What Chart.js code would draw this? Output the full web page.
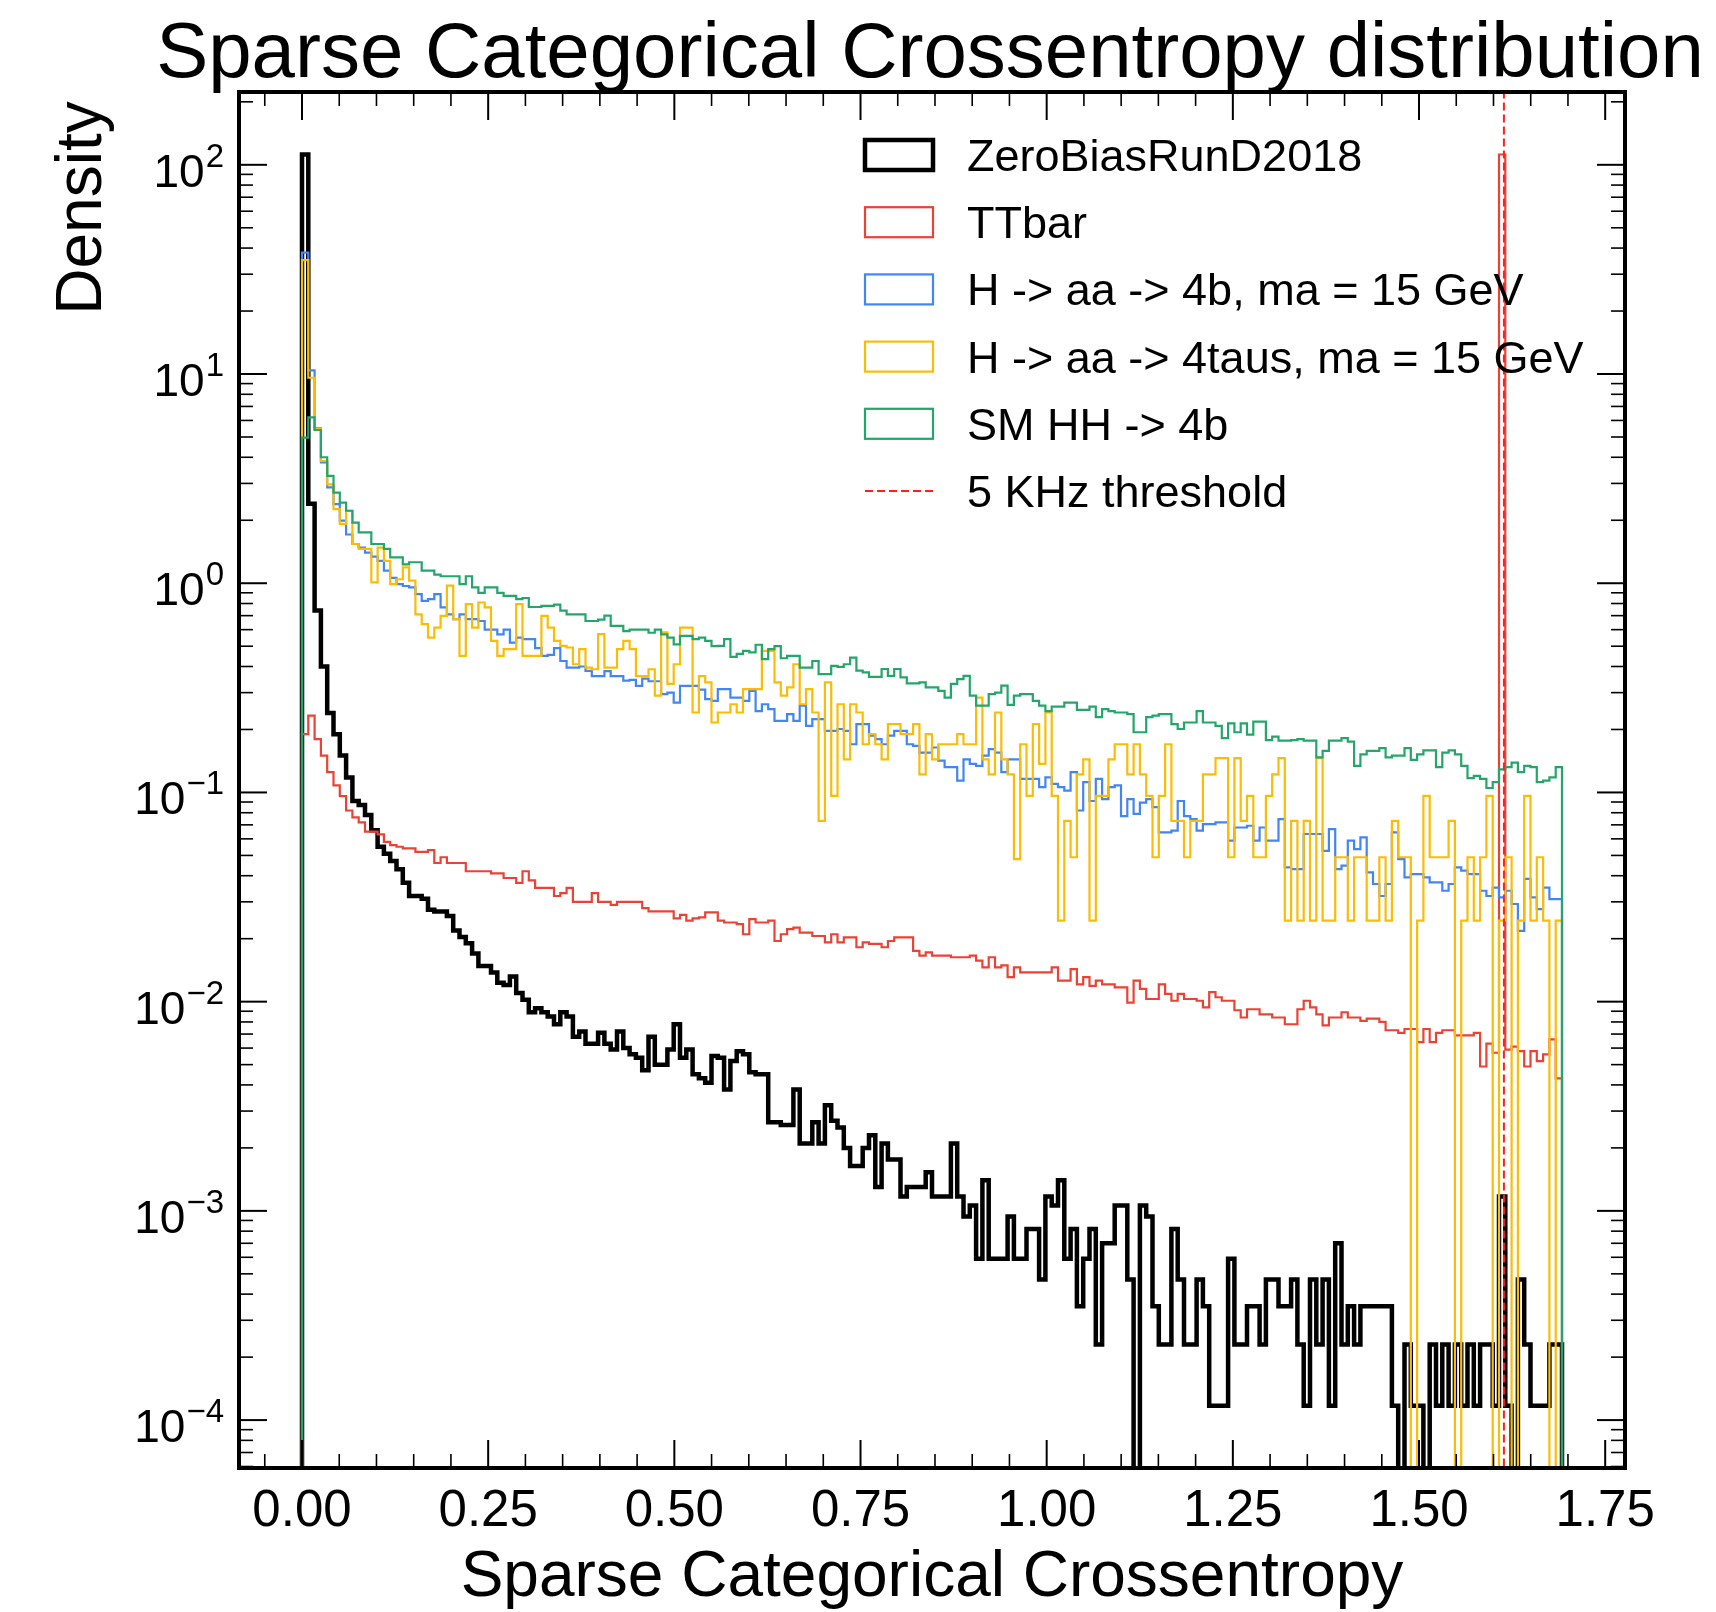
<!DOCTYPE html>
<html>
<head>
<meta charset="utf-8">
<script src="https://cdn.jsdelivr.net/npm/chart.js@4.4.1/dist/chart.umd.min.js"></script>
<style>
  html, body { margin: 0; padding: 0; background: #fff; }
  canvas { display: block; }
</style>
</head>
<body>
<canvas id="grafico" width="1716" height="1612"></canvas>
<script>
// Histogram binning (common to all samples)
const xMin = 0, xMax = 1.692, nBins = 200;
const threshold5kHz = 1.614;

const seriesNames = ['ZeroBiasRunD2018', 'TTbar', 'H -> aa -> 4b, ma = 15 GeV', 'H -> aa -> 4taus, ma = 15 GeV', 'SM HH -> 4b'];
const thresholdLabel = '5 KHz threshold';

// Density per bin
const zeroBias = [
  112, 2.4, 0.74, 0.40, 0.24, 0.19, 0.15, 0.118, 0.091, 0.087,
  0.078, 0.066, 0.055, 0.051, 0.047, 0.043, 0.037, 0.032, 0.032, 0.031,
  0.0275, 0.027, 0.027, 0.0257, 0.0219, 0.0204, 0.019, 0.017, 0.0148, 0.0148,
  0.0138, 0.0123, 0.012, 0.0132, 0.011, 0.0102, 0.0089, 0.0093, 0.0089, 0.0085,
  0.0078, 0.0089, 0.0085, 0.0068, 0.0072, 0.0063, 0.0063, 0.0071, 0.0063, 0.0059,
  0.0072, 0.006, 0.0056, 0.0054, 0.0047, 0.0068, 0.005, 0.005, 0.0059, 0.0078,
  0.0054, 0.0059, 0.0045, 0.0043, 0.0041, 0.0055, 0.0054, 0.0038, 0.0052, 0.0058,
  0.0056, 0.0046, 0.0045, 0.0045, 0.00265, 0.00265, 0.00257, 0.00257, 0.0038, 0.0021,
  0.0021, 0.00265, 0.0021, 0.0032, 0.0027, 0.0025, 0.0020, 0.00164, 0.00164, 0.0020,
  0.0023, 0.0013, 0.0021, 0.00176, 0.00176, 0.00117, 0.0013, 0.0013, 0.0013, 0.00153,
  0.00117, 0.00117, 0.00117, 0.0021, 0.00117, 0.00094, 0.00106, 0.00059, 0.0014, 0.00059,
  0.00059, 0.00059, 0.00094, 0.00059, 0.00059, 0.00082, 0.00082, 0.00047, 0.00117, 0.00106,
  0.0014, 0.00059, 0.00082, 0.00035, 0.00059, 0.00082, 0.00023, 0.0007, 0.0007, 0.00106,
  0.00106, 0.00047, 0, 0.00106, 0.00094, 0.00035, 0.00023, 0.00023, 0.00082, 0.00047,
  0.00023, 0.00023, 0.00047, 0.00035, 0.000117, 0.000117, 0.000117, 0.00059, 0.00023, 0.00023,
  0.00035, 0.00035, 0.00023, 0.00047, 0.00047, 0.00035, 0.00035, 0.00047, 0.00023, 0.000117,
  0.00047, 0.00023, 0.00047, 0.000117, 0.0007, 0.00023, 0.00035, 0.00023, 0.00035, 0.00035,
  0.00035, 0.00035, 0.00035, 0.000117, 0, 0.00023, 0.000117, 0.000117, 0, 0.00023,
  0.000117, 0.00023, 0.000117, 0.00023, 0.000117, 0.00023, 0.000117, 0.00023, 0.00023, 0.000117,
  0.00117, 0.000117, 0, 0.00047, 0.00023, 0.000117, 0.000117, 0.000117, 0.00023, 0.00023
];

const ttbar = [
  0.19, 0.233, 0.18, 0.15, 0.125, 0.108, 0.096, 0.082, 0.076, 0.072,
  0.065, 0.065, 0.063, 0.058, 0.056, 0.055, 0.054, 0.054, 0.052, 0.052,
  0.053, 0.046, 0.049, 0.046, 0.046, 0.046, 0.042, 0.042, 0.042, 0.042,
  0.041, 0.041, 0.039, 0.039, 0.037, 0.042, 0.038, 0.035, 0.035, 0.035,
  0.032, 0.033, 0.035, 0.030, 0.030, 0.030, 0.033, 0.030, 0.030, 0.029,
  0.030, 0.030, 0.030, 0.030, 0.028, 0.027, 0.027, 0.027, 0.027, 0.025,
  0.026, 0.0244, 0.025, 0.0253, 0.0267, 0.0267, 0.0244, 0.0239, 0.0239, 0.0235,
  0.021, 0.0248, 0.0239, 0.0239, 0.0244, 0.0195, 0.021, 0.0222, 0.0226, 0.0214,
  0.0214, 0.0206, 0.0206, 0.0192, 0.021, 0.0192, 0.0203, 0.0203, 0.0182, 0.0192,
  0.0189, 0.0189, 0.0182, 0.0195, 0.0203, 0.0203, 0.0203, 0.0175, 0.0166, 0.0172,
  0.0166, 0.0166, 0.0166, 0.0163, 0.0163, 0.0163, 0.0166, 0.0157, 0.0146, 0.0163,
  0.0146, 0.0149, 0.0131, 0.0146, 0.0138, 0.0138, 0.0138, 0.0138, 0.0138, 0.0146,
  0.0126, 0.0126, 0.0143, 0.0121, 0.0131, 0.0119, 0.0126, 0.0121, 0.0121, 0.0117,
  0.0117, 0.0099, 0.0126, 0.0115, 0.0103, 0.0103, 0.0121, 0.0109, 0.0101, 0.0109,
  0.0103, 0.0103, 0.0101, 0.0094, 0.0111, 0.0105, 0.0101, 0.0101, 0.0091, 0.0084,
  0.0092, 0.0092, 0.0087, 0.0087, 0.0084, 0.0084, 0.0078, 0.0078, 0.0092, 0.0101,
  0.0094, 0.0087, 0.0077, 0.0084, 0.0084, 0.0089, 0.0084, 0.0084, 0.0081, 0.0083,
  0.0083, 0.0080, 0.0073, 0.0073, 0.0071, 0.0074, 0.0074, 0.0064, 0.0074, 0.0064,
  0.0071, 0.0073, 0.0073, 0.0069, 0.0069, 0.0069, 0.0071, 0.0049, 0.0063, 0.0057,
  112, 0.0059, 0.0061, 0.0058, 0.0049, 0.0058, 0.0052, 0.0056, 0.0066, 0.0043
];

const haa4b = [
  38, 10.4, 5.5, 3.78, 2.87, 2.39, 1.99, 1.71, 1.54, 1.48,
  1.40, 1.34, 1.28, 1.15, 1.06, 0.99, 0.97, 0.955, 0.887, 0.824,
  0.84, 0.887, 0.766, 0.71, 0.673, 0.71, 0.673, 0.673, 0.66, 0.60,
  0.60, 0.57, 0.60, 0.52, 0.55, 0.54, 0.54, 0.49, 0.45, 0.455,
  0.49, 0.425, 0.395, 0.395, 0.40, 0.381, 0.36, 0.36, 0.38, 0.36,
  0.36, 0.342, 0.345, 0.323, 0.35, 0.34, 0.34, 0.295, 0.30, 0.269,
  0.323, 0.323, 0.323, 0.31, 0.279, 0.274, 0.312, 0.312, 0.284, 0.284,
  0.274, 0.306, 0.245, 0.264, 0.25, 0.22, 0.22, 0.237, 0.22, 0.26,
  0.208, 0.224, 0.224, 0.197, 0.197, 0.201, 0.197, 0.17, 0.212, 0.212,
  0.187, 0.18, 0.17, 0.187, 0.197, 0.197, 0.17, 0.167, 0.155, 0.155,
  0.164, 0.142, 0.132, 0.132, 0.114, 0.144, 0.137, 0.134, 0.15, 0.161,
  0.155, 0.125, 0.144, 0.144, 0.116, 0.116, 0.116, 0.106, 0.118, 0.11,
  0.106, 0.102, 0.125, 0.082, 0.112, 0.091, 0.116, 0.093, 0.106, 0.108,
  0.077, 0.093, 0.079, 0.0895, 0.093, 0.085, 0.0645, 0.0645, 0.0657, 0.091,
  0.077, 0.0746, 0.0657, 0.0706, 0.0706, 0.072, 0.072, 0.0588, 0.068, 0.068,
  0.0693, 0.0588, 0.068, 0.0588, 0.0588, 0.0746, 0.0438, 0.043, 0.043, 0.0633,
  0.0633, 0.0633, 0.0526, 0.0668, 0.043, 0.0447, 0.0588, 0.0536, 0.061, 0.0415,
  0.0365, 0.032, 0.0365, 0.0645, 0.048, 0.0393, 0.0407, 0.0407, 0.0393, 0.0372,
  0.0372, 0.0339, 0.0365, 0.0438, 0.0423, 0.0407, 0.0407, 0.0339, 0.032, 0.0351,
  0.0315, 0.0339, 0.0293, 0.0218, 0.0386, 0.0315, 0.0277, 0.0351, 0.0309, 0.0309
];

const haa4tau = [
  35, 9.6, 5.45, 3.84, 2.97, 2.26, 1.92, 2.22, 1.54, 1.46,
  1.46, 1.01, 1.48, 1.28, 0.99, 1.045, 1.19, 1.03, 0.71, 0.637,
  0.55, 0.614, 0.698, 0.973, 0.673, 0.45, 0.794, 0.614, 0.809, 0.766,
  0.53, 0.45, 0.484, 0.484, 0.794, 0.45, 0.45, 0.45, 0.698, 0.614,
  0.53, 0.502, 0.493, 0.41, 0.484, 0.395, 0.388, 0.571, 0.395, 0.395,
  0.484, 0.53, 0.484, 0.36, 0.36, 0.388, 0.29, 0.582, 0.33, 0.41,
  0.614, 0.614, 0.241, 0.36, 0.336, 0.216, 0.241, 0.241, 0.264, 0.241,
  0.312, 0.312, 0.312, 0.475, 0.475, 0.336, 0.29, 0.318, 0.41, 0.264,
  0.312, 0.241, 0.0732, 0.336, 0.0964, 0.264, 0.144, 0.264, 0.241, 0.17,
  0.19, 0.17, 0.144, 0.212, 0.212, 0.19, 0.19, 0.212, 0.122, 0.19,
  0.144, 0.17, 0.17, 0.17, 0.19, 0.17, 0.17, 0.284, 0.144, 0.122,
  0.241, 0.144, 0.122, 0.048, 0.17, 0.0964, 0.212, 0.137, 0.241, 0.0964,
  0.0244, 0.0732, 0.049, 0.122, 0.144, 0.0244, 0.0964, 0.0964, 0.144, 0.17,
  0.17, 0.122, 0.17, 0.122, 0.0964, 0.049, 0.0964, 0.17, 0.0732, 0.0732,
  0.049, 0.0732, 0.0732, 0.122, 0.122, 0.146, 0.146, 0.049, 0.146, 0.0732,
  0.0964, 0.049, 0.049, 0.0964, 0.122, 0.146, 0.0244, 0.0732, 0.0244, 0.0732,
  0.0244, 0.146, 0.0244, 0.0244, 0.049, 0.049, 0.0244, 0.049, 0.049, 0.0244,
  0.0244, 0.049, 0.0244, 0.0732, 0.049, 0.049, 0, 0.0244, 0.0964, 0.049,
  0.049, 0.049, 0.0732, 0, 0.0244, 0.049, 0.0244, 0.049, 0.0964, 0,
  0.0244, 0.049, 0, 0.0244, 0.0964, 0.0244, 0.049, 0.0244, 0, 0.0244
];

const hh4b = [
  4.97, 6.2, 5.4, 4.0, 3.26, 2.71, 2.43, 2.22, 1.95, 1.75,
  1.75, 1.54, 1.54, 1.46, 1.33, 1.33, 1.23, 1.26, 1.26, 1.15,
  1.15, 1.10, 1.08, 1.08, 1.08, 0.99, 1.08, 0.955, 0.90, 0.955,
  0.955, 0.90, 0.87, 0.87, 0.84, 0.85, 0.77, 0.77, 0.78, 0.78,
  0.79, 0.74, 0.71, 0.71, 0.71, 0.66, 0.66, 0.67, 0.70, 0.625,
  0.625, 0.59, 0.60, 0.60, 0.60, 0.58, 0.60, 0.57, 0.55, 0.51,
  0.56, 0.56, 0.54, 0.55, 0.53, 0.50, 0.502, 0.541, 0.445, 0.46,
  0.475, 0.467, 0.508, 0.434, 0.484, 0.50, 0.438, 0.45, 0.45, 0.395,
  0.395, 0.425, 0.368, 0.368, 0.403, 0.398, 0.41, 0.441, 0.382, 0.375,
  0.357, 0.357, 0.389, 0.361, 0.389, 0.355, 0.332, 0.332, 0.336, 0.318,
  0.318, 0.306, 0.284, 0.33, 0.348, 0.361, 0.29, 0.26, 0.26, 0.295,
  0.30, 0.324, 0.262, 0.29, 0.295, 0.295, 0.274, 0.26, 0.245, 0.257,
  0.257, 0.269, 0.269, 0.248, 0.248, 0.257, 0.229, 0.25, 0.245, 0.241,
  0.241, 0.237, 0.194, 0.194, 0.229, 0.233, 0.237, 0.237, 0.212, 0.201,
  0.216, 0.216, 0.245, 0.216, 0.216, 0.208, 0.182, 0.214, 0.194, 0.214,
  0.189, 0.218, 0.218, 0.178, 0.185, 0.177, 0.177, 0.178, 0.18, 0.177,
  0.177, 0.147, 0.158, 0.177, 0.177, 0.182, 0.175, 0.134, 0.152, 0.158,
  0.158, 0.163, 0.147, 0.15, 0.15, 0.163, 0.143, 0.152, 0.159, 0.159,
  0.132, 0.155, 0.159, 0.152, 0.134, 0.117, 0.12, 0.116, 0.105, 0.112,
  0.129, 0.132, 0.139, 0.125, 0.134, 0.132, 0.112, 0.114, 0.118, 0.132
];

const xTickLabels = ['0.00', '0.25', '0.50', '0.75', '1.00', '1.25', '1.50', '1.75'];
const yTickExponents = [-4, -3, -2, -1, 0, 1, 2];

const cores = ['#000000', '#ea4335', '#4285f4', '#fbbc05', '#22a66a'];
const espessuras = [4.5, 2.2, 2.2, 2.2, 2.2];
const FONTE = '"Liberation Sans", Arial, Helvetica, sans-serif';
const PISO = 1e-6; // empty bins drop below the axis

// bin edges -> step outline like histtype='step'
function pontosDegrau(valores) {
  const w = (xMax - xMin) / nBins;
  const pts = [{ x: xMin, y: PISO }];
  valores.forEach((v, i) => pts.push({ x: xMin + i * w, y: v > 0 ? v : PISO }));
  const ult = valores[valores.length - 1];
  pts.push({ x: xMax, y: ult > 0 ? ult : PISO });
  pts.push({ x: xMax, y: PISO });
  return pts;
}

const series = [zeroBias, ttbar, haa4b, haa4tau, hh4b];
const datasets = series.map((s, i) => ({
  label: seriesNames[i],
  data: pontosDegrau(s),
  borderColor: cores[i],
  borderWidth: espessuras[i],
  stepped: true,
  pointRadius: 0,
  fill: false,
  borderJoinStyle: 'miter',
  order: 5 - i
}));
datasets.push({
  label: thresholdLabel,
  data: [{ x: threshold5kHz, y: PISO }, { x: threshold5kHz, y: 1e4 }],
  borderColor: '#ff1f1f',
  borderWidth: 2,
  borderDash: [8, 4],
  pointRadius: 0,
  fill: false,
  order: 0
});

const decoracao = {
  id: 'decoracao',
  afterDraw(chart) {
    const { ctx, chartArea: a, scales: { x, y } } = chart;
    ctx.save();
    ctx.strokeStyle = '#000';
    ctx.fillStyle = '#000';

    const traco = (x1, y1, x2, y2, lw) => {
      ctx.lineWidth = lw;
      ctx.beginPath(); ctx.moveTo(x1, y1); ctx.lineTo(x2, y2); ctx.stroke();
    };
    const MAJ = 28, MIN = 14;

    // x ticks (inward, bottom and top)
    xTickLabels.forEach(t => {
      const px = x.getPixelForValue(parseFloat(t));
      traco(px, a.bottom, px, a.bottom - MAJ, 2);
      traco(px, a.top, px, a.top + MAJ, 2);
    });
    for (let i = -2; i <= 36; i++) {
      if (i % 5 === 0) continue;
      const v = i * 0.05;
      if (v < x.min || v > x.max) continue;
      const px = x.getPixelForValue(v);
      traco(px, a.bottom, px, a.bottom - MIN, 1.6);
      traco(px, a.top, px, a.top + MIN, 1.6);
    }
    // y ticks (inward, left and right)
    yTickExponents.forEach(e => {
      const py = y.getPixelForValue(Math.pow(10, e));
      traco(a.left, py, a.left + MAJ, py, 2);
      traco(a.right, py, a.right - MAJ, py, 2);
    });
    for (let e = -5; e <= 2; e++) {
      for (let m = 2; m <= 9; m++) {
        const v = m * Math.pow(10, e);
        if (v < y.min || v > y.max) continue;
        const py = y.getPixelForValue(v);
        traco(a.left, py, a.left + MIN, py, 1.6);
        traco(a.right, py, a.right - MIN, py, 1.6);
      }
    }
    // frame
    ctx.lineWidth = 4;
    ctx.strokeRect(a.left, a.top, a.right - a.left, a.bottom - a.top);

    // x tick labels
    ctx.font = `51px ${FONTE}`;
    ctx.textAlign = 'center';
    ctx.textBaseline = 'alphabetic';
    xTickLabels.forEach(t => {
      ctx.fillText(t, x.getPixelForValue(parseFloat(t)), a.bottom + 58);
    });

    // y tick labels 10^e
    const base = 46, sup = 33;
    ctx.textAlign = 'right';
    yTickExponents.forEach(e => {
      const py = y.getPixelForValue(Math.pow(10, e));
      const expo = e < 0 ? '\u2212' + Math.abs(e) : String(e);
      const xr = a.left - 15;
      ctx.font = `${sup}px ${FONTE}`;
      const wSup = ctx.measureText(expo).width;
      ctx.fillText(expo, xr, py + 2);
      ctx.font = `${base}px ${FONTE}`;
      ctx.fillText('10', xr - wSup - 1, py + 22);
    });

    // title and axis labels
    ctx.textAlign = 'center';
    ctx.font = `78px ${FONTE}`;
    ctx.fillText('Sparse Categorical Crossentropy distribution', (a.left + a.right) / 2 - 2, 77);
    ctx.font = `64px ${FONTE}`;
    ctx.fillText('Sparse Categorical Crossentropy', (a.left + a.right) / 2, 1596);
    ctx.save();
    ctx.translate(101, 208);
    ctx.rotate(-Math.PI / 2);
    ctx.fillText('Density', 0, 0);
    ctx.restore();

    // legend
    const lx = 865, lw = 68, lh = 30, tx = 967, y0 = 155, dy = 67.2;
    ctx.font = `45px ${FONTE}`;
    ctx.textAlign = 'left';
    seriesNames.forEach((n, i) => {
      const cy = y0 + i * dy;
      ctx.strokeStyle = cores[i];
      ctx.lineWidth = espessuras[i];
      ctx.strokeRect(lx, cy - lh / 2, lw, lh);
      ctx.fillStyle = '#000';
      ctx.fillText(n, tx, cy + 16);
    });
    const cy = y0 + seriesNames.length * dy;
    ctx.strokeStyle = '#ff1f1f';
    ctx.lineWidth = 2;
    ctx.setLineDash([8, 4]);
    traco(lx, cy, lx + lw, cy, 2);
    ctx.setLineDash([]);
    ctx.fillText(thresholdLabel, tx, cy + 16);

    ctx.restore();
  }
};

new Chart(document.getElementById('grafico'), {
  type: 'line',
  data: { datasets },
  options: {
    responsive: false,
    animation: false,
    devicePixelRatio: 1,
    events: [],
    layout: { padding: { left: 239, right: 91, top: 92, bottom: 144 } },
    plugins: { legend: { display: false }, title: { display: false }, tooltip: { enabled: false } },
    scales: {
      x: { type: 'linear', min: -0.0846, max: 1.7766, display: false },
      y: { type: 'logarithmic', min: Math.pow(10, -4.229), max: Math.pow(10, 2.348), display: false }
    }
  },
  plugins: [decoracao]
});
</script>
</body>
</html>
